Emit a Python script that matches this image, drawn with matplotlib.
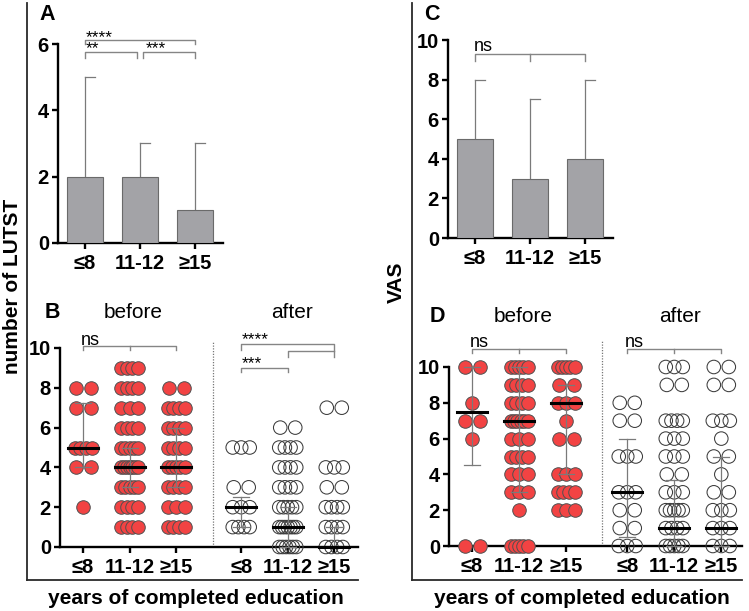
import numpy as np
import matplotlib
matplotlib.use("Agg")
import matplotlib.pyplot as plt

plt.rcParams['font.family'] = ['Liberation Sans', 'DejaVu Sans']

W, H = 749, 611

# ---------------- data ----------------
categories = ["≤8", "11-12", "≥15"]

# Panel A: number of LUTST (bar = median, whisker = upper range)
lutst_bar = [2, 2, 1]
lutst_err_top = [5, 3, 3]

# Panel C: VAS
vas_bar = [5, 3, 4]
vas_err_top = [8, 7, 8]

# Panel B: number of LUTST before / after  (value -> count)
lutst_before_le8 = {8: 2, 7: 2, 5: 4, 4: 2, 2: 1}
lutst_before_11_12 = {9: 4, 8: 4, 7: 3, 6: 4, 5: 5, 4: 7, 3: 5, 2: 4, 1: 4}
lutst_before_ge15 = {8: 2, 7: 4, 6: 4, 5: 4, 4: 5, 3: 4, 2: 3, 1: 4}
lutst_after_le8 = {5: 3, 3: 2, 2: 3, 1: 4}
lutst_after_11_12 = {6: 2, 5: 4, 4: 4, 3: 4, 2: 5, 1: 7, 0: 6}
lutst_after_ge15 = {7: 2, 4: 3, 3: 2, 2: 4, 1: 4, 0: 4}
# median, q1, q3
lutst_before_stats = [(5, 4, 7.25), (4, 3, 5), (4, 3, 6)]
lutst_after_stats = [(2, 1, 2.5), (1, 0, 2), (0, 0, 1)]

# Panel D: VAS before / after
vas_before_le8 = {10: 2, 8: 1, 7: 2, 6: 1, 0: 2}
vas_before_11_12 = {10: 5, 9: 4, 8: 4, 7: 6, 6: 3, 5: 4, 4: 3, 3: 3, 2: 1, 0: 5}
vas_before_ge15 = {10: 5, 9: 2, 8: 3, 7: 1, 6: 2, 4: 3, 3: 4, 2: 3}
vas_after_le8 = {8: 2, 7: 2, 5: 3, 3: 3, 2: 2, 1: 2, 0: 3}
vas_after_11_12 = {10: 3, 9: 2, 7: 4, 6: 3, 5: 3, 4: 2, 3: 3, 2: 5, 1: 4, 0: 5}
vas_after_ge15 = {10: 2, 9: 2, 7: 3, 6: 1, 5: 2, 4: 1, 3: 2, 2: 3, 1: 3, 0: 3}
vas_before_stats = [(7.5, 4.5, 10), (7, 3, 10), (8, 4, 9)]
vas_after_stats = [(3, 0.5, 6), (1, 0, 3.7), (1, 0, 5)]

# ---------------- style ----------------
BAR_FACE = '#a3a3a7'
BAR_EDGE = '#6a6a6a'
ERR = '#7a7a7a'
RED = '#f24343'
DOT_EDGE = '#505050'
RING = '#3c3c3c'
BRK = '#858585'
LW_AX = 1.7
TICK_FS = 14.5

fig = plt.figure(figsize=(W / 100, H / 100), dpi=100)


def add_ax(l, t, r, b):
    return fig.add_axes([l / W, 1 - b / H, (r - l) / W, (b - t) / H])


def ftext(x, y, s, **kw):
    fig.text(x / W, 1 - y / H, s, **kw)


def style_axis(ax, yticks, xticks, xlabels):
    for s in ['top', 'right']:
        ax.spines[s].set_visible(False)
    for s in ['left', 'bottom']:
        ax.spines[s].set_linewidth(LW_AX)
        ax.spines[s].set_color('black')
        ax.spines[s].set_zorder(1)
    ax.set_yticks(yticks)
    ax.set_yticklabels([str(v) for v in yticks], fontsize=TICK_FS,
                       fontweight='bold')
    ax.set_xticks(xticks)
    ax.set_xticklabels(xlabels, fontsize=TICK_FS, fontweight='bold')
    ax.tick_params(axis='both', width=LW_AX, length=4, color='black', pad=2.5)
    ax.tick_params(axis='x', pad=4)
    ax.set_facecolor('none')


def bracket(ax, x0, x1, y, drop0, drop1, mid=None, mid_drop=None):
    ax.plot([x0, x0, x1, x1], [y - drop0, y, y, y - drop1], color=BRK,
            lw=1.0, clip_on=False, zorder=5)
    if mid is not None:
        ax.plot([mid, mid], [y, y - mid_drop], color=BRK, lw=1.0,
                clip_on=False, zorder=5)


# ---------------- bar panels ----------------
def bar_panel(ax, vals, tops, ymax, yticks):
    x = np.arange(len(vals))
    ax.bar(x, vals, width=0.67, color=BAR_FACE, edgecolor=BAR_EDGE, lw=0.8,
           zorder=2)
    for xi, v, t in zip(x, vals, tops):
        ax.plot([xi, xi], [v, t], color=ERR, lw=0.9, zorder=1.5)
        ax.plot([xi, xi + 0.18], [t, t], color=ERR, lw=0.9, zorder=1.5)
    ax.set_xlim(-0.49, 2.51)
    ax.set_ylim(0, ymax)
    ax.spines['left'].set_bounds(0, ymax)
    style_axis(ax, yticks, x, categories)


axA = add_ax(58, 44, 223, 243)
bar_panel(axA, lutst_bar, lutst_err_top, 6, [0, 2, 4, 6])
bracket(axA, 0, 2, 6.11, 0.12, 0.12)
bracket(axA, 0, 0.95, 5.75, 0.18, 0.18)
bracket(axA, 1.05, 2, 5.75, 0.18, 0.18)
axA.text(0.02, 5.72, "****\n**", fontsize=12.5, ha='left', va='baseline',
         linespacing=0.72)
axA.text(1.1, 5.72, "***", fontsize=12.5, ha='left', va='baseline')

axC = add_ax(448, 40, 613, 238)
bar_panel(axC, vas_bar, vas_err_top, 10, [0, 2, 4, 6, 8, 10])
bracket(axC, 0, 2, 9.29, 0.33, 0.33, mid=1, mid_drop=0.33)
axC.text(-0.02, 9.45, "ns", fontsize=13, ha='left', va='baseline')


# ---------------- dot panels ----------------
def spread(n, unit_px):
    if n == 1:
        return np.array([0.0])
    w = min(15.0 * (n - 1), 17.0)
    return np.linspace(-w / 2, w / 2, n) / unit_px


def dot_panel(ax, groups, stats, positions, unit_px, filled):
    for g, st, xc in zip(groups, stats, positions):
        xs, ys = [], []
        for val, cnt in g.items():
            for off in spread(cnt, unit_px):
                xs.append(xc + off)
                ys.append(val)
        if filled:
            ax.scatter(xs, ys, s=95, facecolor=RED, edgecolor=DOT_EDGE,
                       linewidth=0.7, zorder=3, clip_on=False)
        else:
            ax.scatter(xs, ys, s=95, facecolor='none', edgecolor=RING,
                       linewidth=0.75, zorder=3, clip_on=False)
        med, q1, q3 = st
        cap = 8.0 / unit_px
        ax.plot([xc, xc], [q1, q3], color=ERR, lw=0.9, zorder=4, clip_on=False)
        ax.plot([xc - cap, xc + cap], [q1, q1], color=ERR, lw=0.9, zorder=4,
                clip_on=False)
        ax.plot([xc - cap, xc + cap], [q3, q3], color=ERR, lw=0.9, zorder=4,
                clip_on=False)
        hw = 15.0 / unit_px
        ax.plot([xc - hw, xc + hw], [med, med], color='black', lw=2.2,
                zorder=5, clip_on=False)


# Panel B
axB = add_ax(60, 348, 358, 547)
uB = 46.5
posB = [0, 1, 2, 3.4, 4.4, 5.4]
dot_panel(axB, [lutst_before_le8, lutst_before_11_12, lutst_before_ge15],
          lutst_before_stats, posB[:3], uB, True)
dot_panel(axB, [lutst_after_le8, lutst_after_11_12, lutst_after_ge15],
          lutst_after_stats, posB[3:], uB, False)
axB.set_xlim(-0.495, 5.91)
axB.set_ylim(0, 10)
axB.spines['left'].set_bounds(0, 10)
style_axis(axB, [0, 2, 4, 6, 8, 10], posB, categories * 2)
axB.plot([2.8, 2.8], [0, 10.3], color='#777777', lw=0.9, ls=(0, (1, 1.2)),
         clip_on=False, zorder=1)
bracket(axB, 0, 2, 10.1, 0.2, 0.2, mid=1, mid_drop=0.2)
axB.text(-0.05, 10.15, "ns", fontsize=13, ha='left', va='baseline')
bracket(axB, 3.4, 5.4, 10.2, 0.3, 0.65)
bracket(axB, 4.4, 5.4, 9.85, 0.3, 0.0)
bracket(axB, 3.4, 4.4, 9.0, 0.2, 0.2)
axB.text(3.42, 10.17, "****", fontsize=12.5, ha='left', va='baseline')
axB.text(3.42, 8.97, "***", fontsize=12.5, ha='left', va='baseline')

# Panel D
axD = add_ax(449, 367, 742, 546)
uD = 47.0
posD = [0, 1, 2, 3.3, 4.3, 5.3]
dot_panel(axD, [vas_before_le8, vas_before_11_12, vas_before_ge15],
          vas_before_stats, posD[:3], uD, True)
dot_panel(axD, [vas_after_le8, vas_after_11_12, vas_after_ge15],
          vas_after_stats, posD[3:], uD, False)
axD.set_xlim(-0.49, 5.74)
axD.set_ylim(0, 10)
axD.spines['left'].set_bounds(0, 10)
style_axis(axD, [0, 2, 4, 6, 8, 10], posD, categories * 2)
axD.plot([2.77, 2.77], [0, 11.5], color='#777777', lw=0.9, ls=(0, (1, 1.2)),
         clip_on=False, zorder=1)
bracket(axD, 0, 2, 11.0, 0.22, 0.22, mid=1, mid_drop=0.22)
bracket(axD, 3.3, 5.3, 11.0, 0.22, 0.22, mid=4.3, mid_drop=0.22)
axD.text(-0.05, 11.1, "ns", fontsize=13, ha='left', va='baseline')
axD.text(3.25, 11.1, "ns", fontsize=13, ha='left', va='baseline')

# ---------------- frame lines & labels ----------------
for x0, x1 in [(27, 358), (412, 742)]:
    fig.add_artist(plt.Line2D([x0 / W, x0 / W], [1 - 3 / H, 1 - 580 / H],
                              color='#2a2a2a', lw=1.3))
    fig.add_artist(plt.Line2D([x0 / W, x1 / W], [1 - 580 / H, 1 - 580 / H],
                              color='#2a2a2a', lw=1.3))

ftext(13, 286, "number of LUTST", rotation=90, fontsize=15, fontweight='bold',
      ha='center', va='center')
ftext(396, 282, "VAS", rotation=90, fontsize=15, fontweight='bold',
      ha='center', va='center')
ftext(196, 598, "years of completed education", fontsize=15,
      fontweight='bold', ha='center', va='center')
ftext(582, 598, "years of completed education", fontsize=15,
      fontweight='bold', ha='center', va='center')

ftext(47, 15, "A", fontsize=15.5, fontweight='bold', ha='center', va='center')
ftext(432, 15, "C", fontsize=15.5, fontweight='bold', ha='center', va='center')
ftext(52, 313, "B", fontsize=15.5, fontweight='bold', ha='center', va='center')
ftext(437, 317, "D", fontsize=15.5, fontweight='bold', ha='center', va='center')
ftext(133, 313, "before", fontsize=15, ha='center', va='center')
ftext(292, 313, "after", fontsize=15, ha='center', va='center')
ftext(523, 317, "before", fontsize=15, ha='center', va='center')
ftext(680, 317, "after", fontsize=15, ha='center', va='center')

fig.savefig("out.png", dpi=100)
